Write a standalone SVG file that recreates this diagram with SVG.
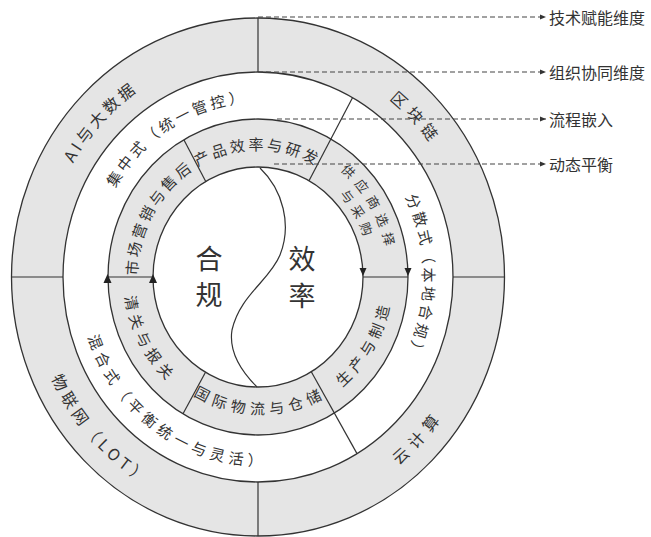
<svg xmlns="http://www.w3.org/2000/svg" xmlns:xlink="http://www.w3.org/1999/xlink" width="651" height="537" viewBox="0 0 651 537">
<style>
.ring{stroke:#333;stroke-width:1.3}
.gray{fill:#e5e5e5}
.white{fill:#fff}
.sep{stroke:#333;stroke-width:1.2;fill:none}
.dash{stroke:#444;stroke-width:1.2;stroke-dasharray:5 3;fill:none}
.lbl{font-family:"Noto Sans CJK SC","Noto Sans",sans-serif;fill:#333;dominant-baseline:central;text-anchor:middle}
.ob{font-size:16px;letter-spacing:4px}
.wb{font-size:15px;letter-spacing:4px}
.ib{font-size:15px;letter-spacing:4px}
.sb{font-size:13px;letter-spacing:7px}
.big{font-size:27px}
.dim{font-family:"Noto Sans CJK SC","Noto Sans",sans-serif;fill:#333;font-size:16px;dominant-baseline:central}
.tri{fill:#222}
</style>
<defs>
<marker id="ah" markerWidth="7" markerHeight="6" refX="6" refY="3" orient="auto" markerUnits="userSpaceOnUse">
<path d="M0,0.5 L6,3 L0,5.5 Z" fill="#333"/>
</marker>
<path id="pAI" d="M38.2,301.2 A221,232 0 0 1 273.4,45.6"/>
<path id="pQK" d="M240.7,45.7 A221,232 0 0 1 478,299.2"/>
<path id="pYJ" d="M240.7,508.3 A221,232 0 0 0 478,254.8"/>
<path id="pWL" d="M38.5,250.3 A221,232 0 0 0 271.1,508.6"/>
<path id="pJZ" d="M87.6,248.6 A172.5,181.5 0 0 1 314.2,105.4"/>
<path id="pFS" d="M368.9,138 A172.5,181.5 0 0 1 368.9,416"/>
<path id="pHH" d="M86.4,296 A172.5,181.5 0 0 0 305.5,451.5"/>
<path id="pCP" d="M158.9,192.7 A127.5,134 0 0 1 354.2,189.1"/>
<path id="pSC" d="M137.5,320.6 A127.5,134 0 0 1 238.1,144.6"/>
<path id="pGY1" d="M279.35,135.8 A136.5,143 0 0 1 387.1,323.6"/>
<path id="pGY2" d="M276.5,153.5 A118.5,125 0 0 1 370,317.7"/>
<path id="pSZ" d="M276.6,409.6 A127.5,134 0 0 0 379,234.7"/>
<path id="pGJ" d="M165.2,362 A127.5,134 0 0 0 354.8,364.2"/>
<path id="pQG" d="M139,229 A127.5,134 0 0 0 233.7,408.5"/>
</defs>

<g id="rings">
<ellipse class="ring gray" cx="258" cy="277" rx="246.5" ry="259"/>
<ellipse class="ring white" cx="258" cy="277" rx="195" ry="205"/>
<ellipse class="ring gray" cx="258" cy="277" rx="150" ry="158"/>
<ellipse class="ring white" cx="258" cy="277" rx="105" ry="110"/>
</g>

<g id="separators">
<line class="sep" x1="258" y1="18" x2="258" y2="72"/>
<line class="sep" x1="258" y1="482" x2="258" y2="536"/>
<line class="sep" x1="11.5" y1="277" x2="63" y2="277"/>
<line class="sep" x1="453" y1="277" x2="504.5" y2="277"/>
<line class="sep" x1="108" y1="277" x2="153" y2="277"/>
<line class="sep" x1="363" y1="277" x2="408" y2="277"/>
<line class="sep" x1="184" y1="140" x2="206" y2="182"/>
<line class="sep" x1="352.5" y1="97.7" x2="309" y2="180.8"/>
<line class="sep" x1="311.3" y1="371.8" x2="357" y2="453.6"/>
<line class="sep" x1="183" y1="413.8" x2="205.5" y2="372.3"/>
<path class="sep" d="M260,168 C283,190 292,225 280,255 C270,280 240,295 232,330 C228,355 245,375 257,387"/>
<path class="tri" d="M103.5,283 L111.5,283 L107.5,274 Z"/>
<path class="tri" d="M149,283 L157,283 L153,274 Z"/>
<path class="tri" d="M359.5,268 L366.5,268 L363,276 Z"/>
<path class="tri" d="M404.5,268 L411.5,268 L408,276 Z"/>
</g>

<g id="outer-ai"><text class="lbl ob"><textPath xlink:href="#pAI" startOffset="50%">AI与大数据</textPath></text></g>
<g id="outer-blockchain"><text class="lbl ob" style="letter-spacing:6px"><textPath xlink:href="#pQK" startOffset="50%">区块链</textPath></text></g>
<g id="outer-cloud"><text class="lbl ob" style="letter-spacing:6px"><textPath xlink:href="#pYJ" startOffset="50%">云计算</textPath></text></g>
<g id="outer-iot"><text class="lbl ob"><textPath xlink:href="#pWL" startOffset="50%">物联网（LOT）</textPath></text></g>

<g id="mid-central"><text class="lbl wb"><textPath xlink:href="#pJZ" startOffset="50%">集中式（统一管控）</textPath></text></g>
<g id="mid-distributed"><text class="lbl wb"><textPath xlink:href="#pFS" startOffset="50%">分散式（本地合规）</textPath></text></g>
<g id="mid-hybrid"><text class="lbl wb"><textPath xlink:href="#pHH" startOffset="50%">混合式（平衡统一与灵活）</textPath></text></g>

<g id="inner-product"><text class="lbl ib"><textPath xlink:href="#pCP" startOffset="51%">产品效率与研发</textPath></text></g>
<g id="inner-marketing"><text class="lbl ib"><textPath xlink:href="#pSC" startOffset="49%">市场营销与售后</textPath></text></g>
<g id="inner-supplier"><text class="lbl sb"><textPath xlink:href="#pGY1" startOffset="50%">供应商选择</textPath><textPath xlink:href="#pGY2" startOffset="50%" style="letter-spacing:6px">与采购</textPath></text></g>
<g id="inner-production"><text class="lbl ib"><textPath xlink:href="#pSZ" startOffset="50%">生产与制造</textPath></text></g>
<g id="inner-logistics"><text class="lbl ib"><textPath xlink:href="#pGJ" startOffset="50%">国际物流与仓储</textPath></text></g>
<g id="inner-customs"><text class="lbl ib"><textPath xlink:href="#pQG" startOffset="50%">清关与报关</textPath></text></g>

<g id="core">
<text class="lbl big" x="209" y="257">合</text>
<text class="lbl big" x="209" y="293">规</text>
<text class="lbl big" x="302" y="257">效</text>
<text class="lbl big" x="302" y="294">率</text>
</g>

<g id="connectors">
<line class="dash" x1="258" y1="17" x2="546" y2="17" marker-end="url(#ah)"/>
<line class="dash" x1="258" y1="72" x2="546" y2="72" marker-end="url(#ah)"/>
<line class="dash" x1="277" y1="119" x2="546" y2="119" marker-end="url(#ah)"/>
<line class="dash" x1="274" y1="164" x2="546" y2="164" marker-end="url(#ah)"/>
</g>

<g id="dim-tech"><text class="dim" x="549" y="17">技术赋能维度</text></g>
<g id="dim-org"><text class="dim" x="549" y="72">组织协同维度</text></g>
<g id="dim-process"><text class="dim" x="549" y="119">流程嵌入</text></g>
<g id="dim-balance"><text class="dim" x="549" y="164">动态平衡</text></g>
</svg>
